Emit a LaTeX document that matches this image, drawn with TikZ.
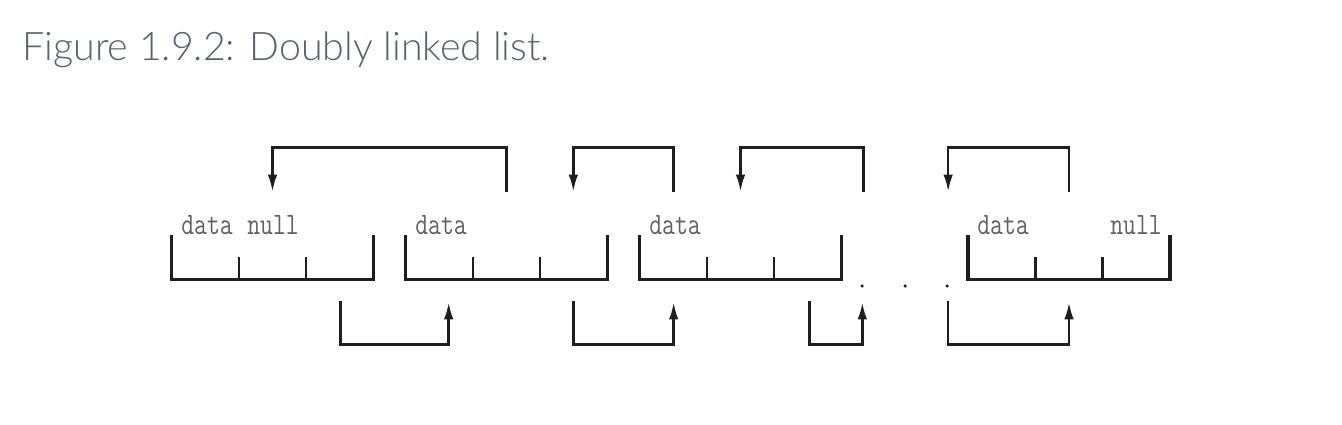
\documentclass[tikz,border=0pt]{standalone}
\usepackage{fontspec}
\usetikzlibrary{calc,positioning,arrows.meta}
\newfontfamily\titlefont{Lato Light}
\definecolor{titlegrey}{HTML}{55646E}
\definecolor{linegrey}{HTML}{1E1E1E}
\newcommand{\tall}[1]{\scalebox{1}[1.25]{#1}}
\tikzset{
  >={Latex[length=3.4mm,width=1.9mm]},
  listnode/.style={
    rectangle,
    minimum width=4.02cm,
    minimum height=0.88cm,
    inner sep=0pt},
  boxline/.style={draw=linegrey, line width=2pt},
  tick/.style={draw=linegrey, line width=1.5pt},
  line/.style={draw=linegrey, line width=1.4pt, ->},
  field/.style={
    anchor=base west,
    inner sep=0pt,
    text=black!62,
    font=\fontsize{14.2}{16}\selectfont\ttfamily},
  dot/.style={circle, fill=linegrey, inner sep=0pt, minimum size=0.07cm},
}

\begin{document}
\begin{tikzpicture}[x=0.02cm, y=-0.02cm]
  \useasboundingbox (0,0) rectangle (1342,424);
  \node[anchor=base west, inner sep=0pt, text=titlegrey,
        font=\fontsize{22.4}{26}\selectfont\titlefont] (title) at (22,60)
        {Figure 1.9.2: Doubly linked list.};

  % the four nodes of the list
  \foreach \name/\cx in {n1/272.5, n2/506.5, n3/740.5, n4/1069} {
    \node[listnode] (\name) at (\cx,257) {};
    \draw[boxline] (\name.north west) |- (\name.south east) -- (\name.north east);
    \draw[tick] ($(\name.south west)!1/3!(\name.south east)$) -- ++(0,-22)
                ($(\name.south west)!2/3!(\name.south east)$) -- ++(0,-22);
  }

  \node[field] (data1) at (181,234) {\tall{data}};
  \node[field] (null1) at (247,234) {\tall{null}};
  \node[field] (data2) at (415,234) {\tall{data}};
  \node[field] (data3) at (649,234) {\tall{data}};
  \node[field] (data4) at (977,234) {\tall{data}};
  \node[field] (null4) at (1110,234) {\tall{null}};

  \node[dot] (dot1) at (862,286) {};
  \node[dot] (dot2) at (905,286) {};
  \node[dot] (dot3) at (947,286) {};

  % back pointers
  \coordinate (a2) at ($(n2.north)+(0,-43)$);
  \coordinate (a1) at ($(n1.north)+(0,-43)$);
  \coordinate (b3) at ($(n3.north west)+(34,-43)$);
  \coordinate (b2) at ($(n2.north east)+(-34,-43)$);
  \coordinate (c3) at ($(n3.north east)+(22,-43)$);
  \coordinate (c2) at ($(n3.north)+(0,-43)$);
  \coordinate (d4) at ($(n4.north)+(0,-43)$);
  \coordinate (d3) at ($(n4.north west)+(-20,-43)$);
  \draw[line] (a2) -- ++(0,-44) -| (a1);
  \draw[line] (b3) -- ++(0,-44) -| (b2);
  \draw[line] (c3) -- ++(0,-44) -| (c2);
  \draw[line] (d4) -- ++(0,-44) -| (d3);

  % next pointers
  \coordinate (e1) at ($(n1.south east)+(-33,22)$);
  \coordinate (e2) at ($(n2.south west)+(43,23)$);
  \coordinate (f2) at ($(n2.south east)+(-34,22)$);
  \coordinate (f3) at ($(n3.south west)+(34,23)$);
  \coordinate (g3) at ($(n3.south east)+(-32,22)$);
  \coordinate (g4) at ($(n3.south east)+(21,23)$);
  \coordinate (h3) at ($(n4.south west)+(-20,22)$);
  \coordinate (h4) at ($(n4.south)+(0,23)$);
  \draw[line] (e1) -- ++(0,43) -| (e2);
  \draw[line] (f2) -- ++(0,43) -| (f3);
  \draw[line] (g3) -- ++(0,43) -| (g4);
  \draw[line] (h3) -- ++(0,43) -| (h4);
\end{tikzpicture}
\end{document}
